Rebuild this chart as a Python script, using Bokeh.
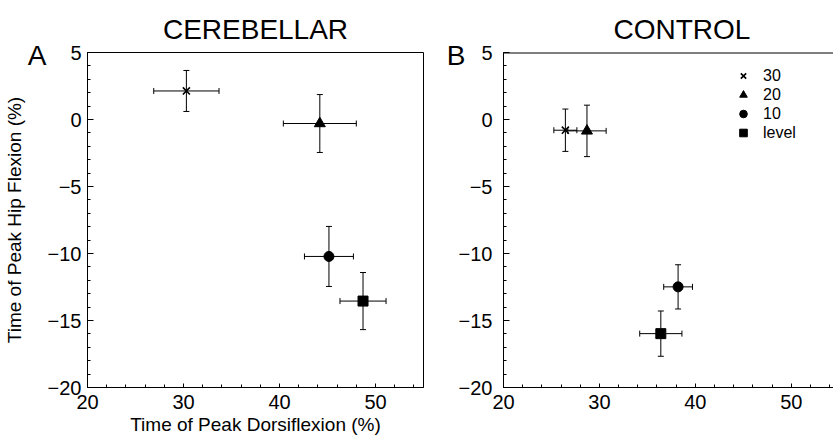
from bokeh.plotting import figure
from bokeh.layouts import row
from bokeh.models import (ColumnDataSource, Whisker, Legend, LegendItem, LinearAxis, Span,
                          SingleIntervalTicker, FixedTicker, Range1d, TeeHead, Title)
from bokeh.embed import file_html
from bokeh.resources import INLINE

# ---- data ----
conditions = ["30", "20", "10", "level"]
markers = ["x", "triangle", "circle", "square"]

cereb_x = [30.3, 44.2, 45.15, 48.7]
cereb_x_err = [3.4, 3.8, 2.55, 2.4]
cereb_y = [2.13, -0.3, -10.22, -13.55]
cereb_y_err = [1.53, 2.16, 2.24, 2.13]

ctrl_x = [26.45, 28.7, 38.2, 36.4]
ctrl_x_err = [1.2, 2.0, 1.5, 2.2]
ctrl_y = [-0.8, -0.85, -12.49, -15.98]
ctrl_y_err = [1.58, 1.92, 1.65, 1.69]

x_start, x_end_a, x_end_b = 20, 55, 54.4
y_start, y_end = -20, 5

FONT = "Liberation Sans"
INK = "black"


def make_panel(xs, xerr, ys, yerr, width, left, right, x_end, letter, letter_standoff,
               tick_standoff, title, title_align, title_offset, y_label=None, x_label=None):
    p = figure(width=width, height=441, output_backend="svg", toolbar_location=None,
               x_range=Range1d(x_start, x_end), y_range=Range1d(y_start, y_end),
               min_border_left=left, min_border_right=right,
               min_border_top=52, min_border_bottom=54,
               background_fill_color="white", border_fill_color="white")
    p.grid.visible = False
    p.title = Title(text=title, align=title_align, offset=title_offset, standoff=16,
                    text_font=FONT, text_font_size="28px", text_font_style="normal",
                    text_color=INK)
    p.xaxis.ticker = SingleIntervalTicker(interval=10, num_minor_ticks=5)
    p.yaxis.ticker = SingleIntervalTicker(interval=5, num_minor_ticks=5)
    for ax in (p.xaxis[0], p.yaxis[0]):
        ax.axis_line_color = INK
        ax.major_tick_line_color = INK
        ax.minor_tick_line_color = INK
        ax.major_tick_out = 0
        ax.minor_tick_out = 0
        ax.minor_tick_in = 3
        ax.major_label_text_font = FONT
        ax.major_label_text_font_size = "20px"
        ax.major_label_text_color = INK
        ax.axis_label_text_font = FONT
        ax.axis_label_text_font_style = "normal"
        ax.axis_label_text_color = INK
    p.xaxis.major_tick_in = 4
    p.yaxis.major_tick_in = 6
    p.xaxis.major_label_standoff = 7
    p.yaxis.major_label_standoff = tick_standoff
    if x_label:
        p.xaxis.axis_label = x_label
        p.xaxis.axis_label_text_font_size = "19px"
        p.xaxis.axis_label_standoff = 2

    # outer left axis carrying the panel letter (and the y-axis title, if any)
    outer = LinearAxis(ticker=FixedTicker(ticks=[4.78]), major_label_overrides={4.78: letter},
                       axis_line_color=None, major_tick_line_color=None,
                       minor_tick_line_color=None, major_tick_in=0, major_tick_out=0,
                       major_label_standoff=letter_standoff,
                       major_label_text_font=FONT, major_label_text_font_size="28px",
                       major_label_text_color=INK)
    if y_label:
        outer.axis_label = y_label
        outer.axis_label_text_font = FONT
        outer.axis_label_text_font_size = "19px"
        outer.axis_label_text_font_style = "normal"
        outer.axis_label_text_color = INK
        outer.axis_label_standoff = 0
    p.add_layout(outer, "left")

    if right > 0:
        p.outline_line_color = INK
        p.outline_line_width = 1
    else:
        p.outline_line_color = None
        p.add_layout(Span(location=y_end, dimension="width", line_color=INK, line_width=2))

    src = ColumnDataSource(dict(
        x=xs, y=ys,
        xl=[a - e for a, e in zip(xs, xerr)], xu=[a + e for a, e in zip(xs, xerr)],
        yl=[a - e for a, e in zip(ys, yerr)], yu=[a + e for a, e in zip(ys, yerr)],
    ))
    for dim, base, lo, hi in (("height", "x", "yl", "yu"), ("width", "y", "xl", "xu")):
        p.add_layout(Whisker(source=src, base=base, lower=lo, upper=hi, dimension=dim,
                             line_color=INK, line_width=1,
                             upper_head=TeeHead(size=6, line_color=INK, line_width=1),
                             lower_head=TeeHead(size=6, line_color=INK, line_width=1)))

    rends = []
    for i, m in enumerate(markers):
        sz = {"x": 10, "triangle": 11, "circle": 10, "square": 10}[m]
        r = p.scatter(x=[xs[i]], y=[ys[i]], marker=m, size=sz, line_color=INK,
                      fill_color=INK, line_width=(1.6 if m == "x" else 1))
        rends.append(r)
    return p, rends


pa, _ = make_panel(cereb_x, cereb_x_err, cereb_y, cereb_y_err, 430, 87, 7, x_end_a,
                   "A", -2, 6, "CEREBELLAR", "center", 0,
                   y_label="Time of Peak Hip Flexion (%)",
                   x_label="Time of Peak Dorsiflexion (%)")
pb, rb = make_panel(ctrl_x, ctrl_x_err, ctrl_y, ctrl_y_err, 403, 73, 0, x_end_b,
                    "B", -10, 11, "CONTROL", "left", 110)

legend = Legend(items=[LegendItem(label=c, renderers=[r]) for c, r in zip(conditions, rb)],
                location=(229, 245), border_line_color=None, background_fill_alpha=0,
                padding=0, spacing=0, margin=0, glyph_width=22, glyph_height=19,
                label_height=19, label_standoff=9, label_text_font=FONT,
                label_text_font_size="16px", label_text_color=INK)
pb.add_layout(legend)

layout = row(pa, pb)
open("out.html", "w").write(file_html(layout, INLINE))
